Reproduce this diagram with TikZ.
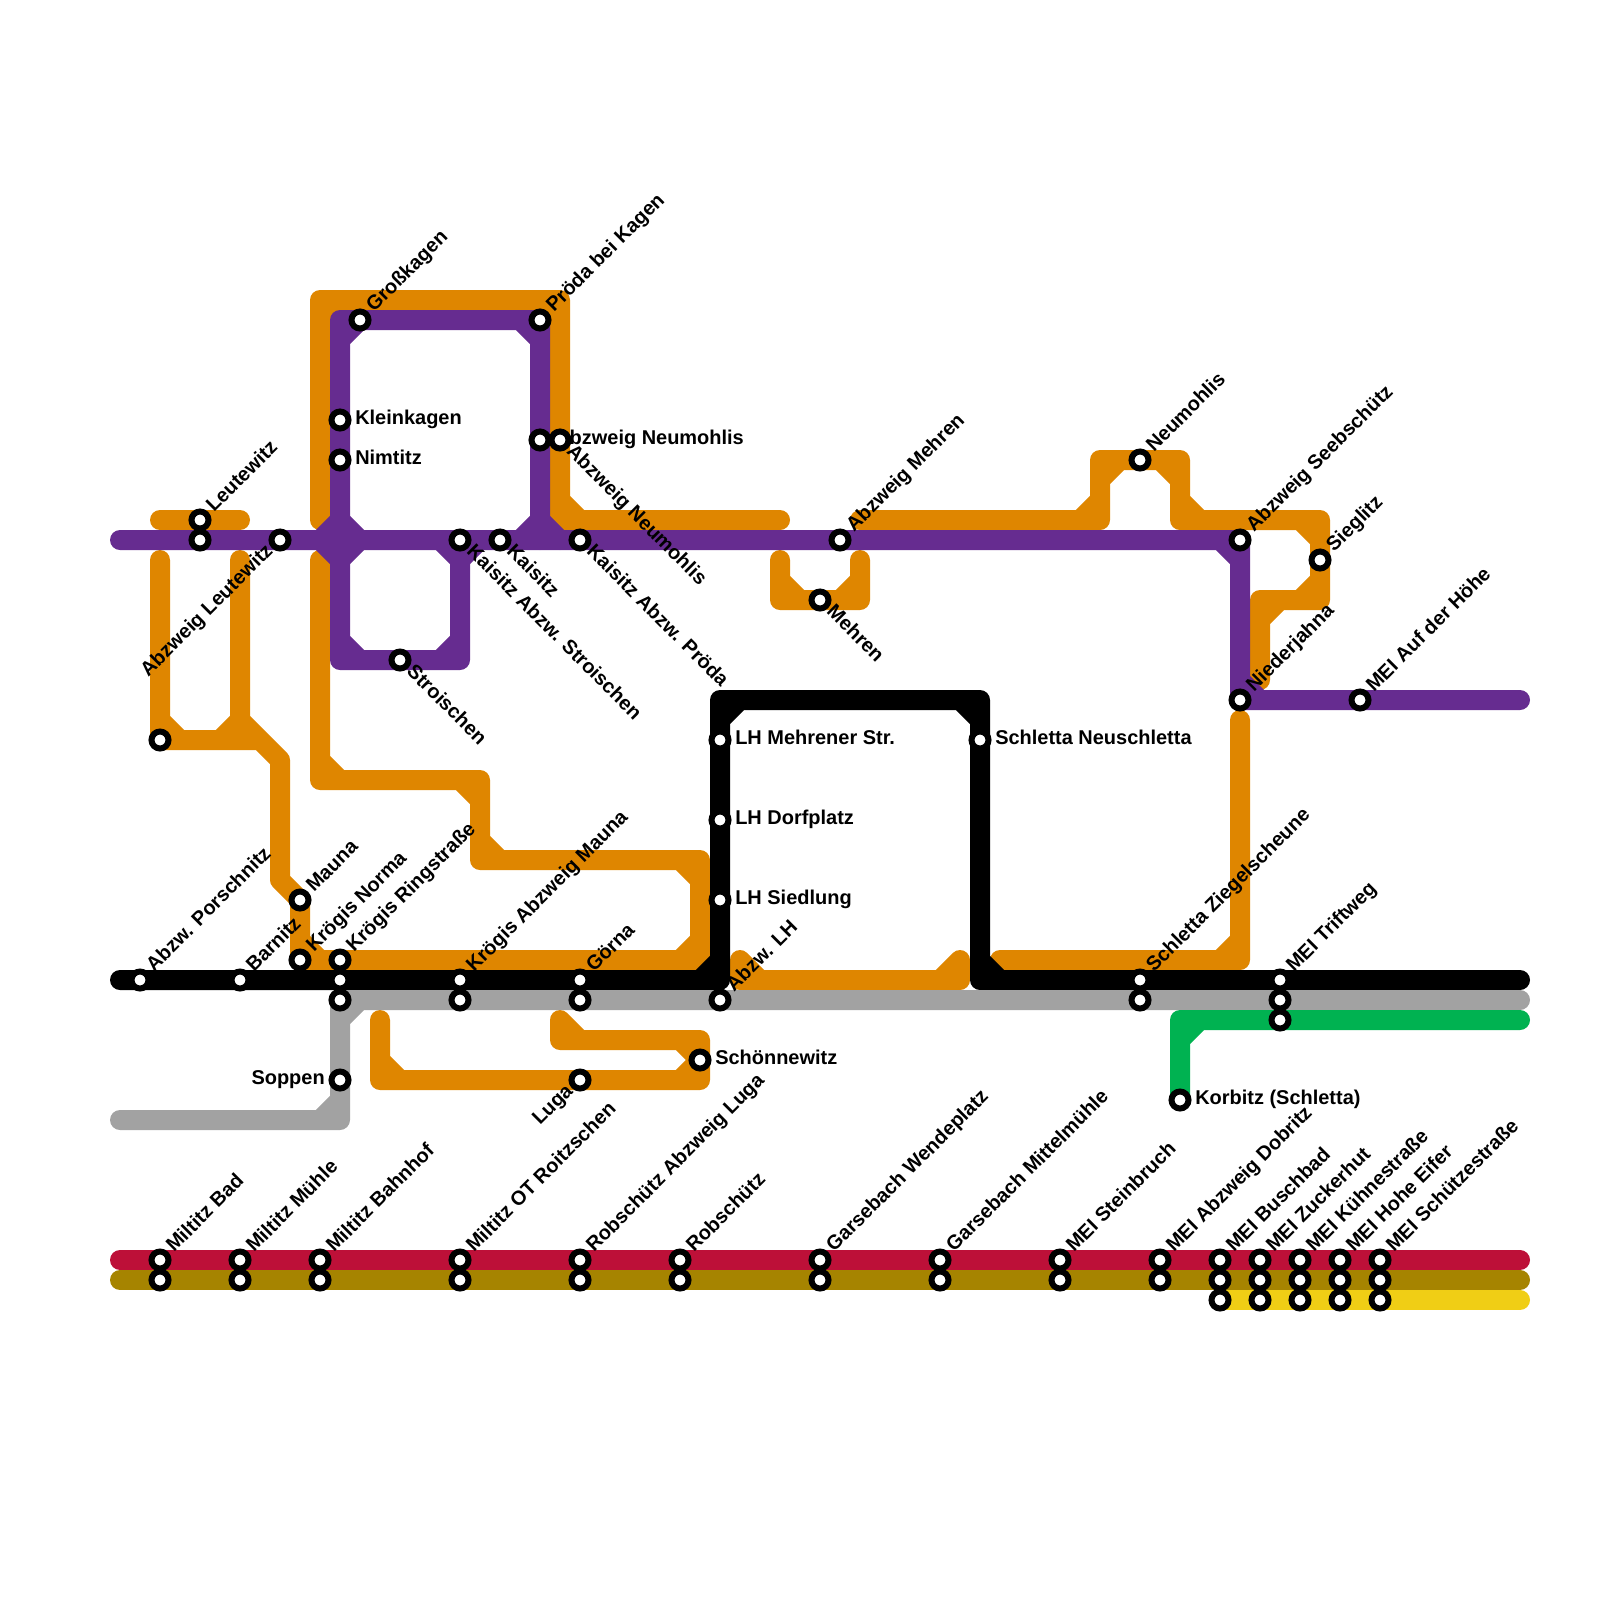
\documentclass[tikz,border=0pt]{standalone}
\usepackage{fontspec}
\setmainfont{Liberation Sans}
\usetikzlibrary{backgrounds}
\definecolor{lineorange}{HTML}{DF8600}\definecolor{linepurple}{HTML}{662C90}
\definecolor{linegray}{HTML}{A2A2A2}\definecolor{linegreen}{HTML}{00B251}
\definecolor{linered}{HTML}{BD1038}\definecolor{lineolive}{HTML}{A68400}
\definecolor{lineyellow}{HTML}{F0CE15}
\begin{document}
\begin{tikzpicture}[x=.5cm,y=-.5cm,stn/.style={circle, draw=black, fill=white, line width=.15cm,
     minimum size=.425cm, inner sep=0pt, outer sep=0pt},
     lab/.style={inner sep=0pt, font=\fontsize{14.2}{17}\selectfont\bfseries, text=black},
     labe/.style={lab, anchor=base west, xshift=.375cm, yshift=-.11cm},
     labw/.style={lab, anchor=base east, xshift=-.375cm, yshift=-.11cm},
     labne/.style={lab, xshift=.35cm, yshift=.175cm, rotate=45, anchor=base west},
     labse/.style={lab, xshift=.14cm, yshift=-.315cm, rotate=-45, anchor=base west},
     labsw/.style={lab, xshift=-.15cm, yshift=-.3cm, rotate=45, anchor=base east},
     route/.style={line width=.5cm, line cap=round, line join=round}]
     \useasboundingbox (0,0) rectangle (80,80);
     % free ends of the routes
     \coordinate (purpleW) at (6,27);\coordinate (purpleE) at (76,35);\coordinate (blackW) at (6,49);\coordinate (blackE) at (76,49);
     \coordinate (grayE) at (76,50);\coordinate (grayW) at (6,56);\coordinate (greenE) at (76,51);
     \coordinate (redW) at (6,63);\coordinate (redE) at (76,63);\coordinate (oliveW) at (6,64);\coordinate (oliveE) at (76,64);\coordinate (yellowE) at (76,65);
     \coordinate (leutW) at (8,26);\coordinate (leutE) at (12,26);\coordinate (porsW) at (8,28);\coordinate (porsE) at (16,28);\coordinate (branchN) at (12,28);
     \coordinate (kagenS) at (16,26);\coordinate (neumE) at (39,26);\coordinate (mehrW) at (39,28);\coordinate (mehrE) at (43,28);\coordinate (seebW) at (43,26);
     \coordinate (niedS) at (63,34);\coordinate (abzW) at (37,48);\coordinate (abzE) at (48,48);\coordinate (zieW) at (50,48);\coordinate (zieN) at (62,36);
     \coordinate (lugaW) at (19,51);\coordinate (lugaE) at (28,51);
     % stations with their labels
     \node (leutewitz) [stn] at (10,26) {};\node (leutewitzL) [labne] at (leutewitz) {Leutewitz};\node (leutewitzB) [stn] at (10,27) {};
     \node (abzLeut) [stn] at (14,27) {};\node (abzLeutL) [labsw] at (abzLeut) {Abzweig Leutewitz};\node (porsTurn) [stn] at (8,37) {};
     \node (grosskagen) [stn] at (18,16) {};\node (grosskagenL) [labne] at (grosskagen) {Großkagen};
     \node (proeda) [stn] at (27,16) {};\node (proedaL) [labne] at (proeda) {Pröda bei Kagen};
     \node (kleinkagen) [stn] at (17,21) {};\node (kleinkagenL) [labe] at (kleinkagen) {Kleinkagen};
     \node (nimtitz) [stn] at (17,23) {};\node (nimtitzL) [labe] at (nimtitz) {Nimtitz};
     \node (abzNeumA) [stn] at (27,22) {};\node (abzNeumAL) [labe] at (abzNeumA) {Abzweig Neumohlis};
     \node (abzNeumB) [stn] at (28,22) {};\node (abzNeumBL) [labse] at (abzNeumB) {Abzweig Neumohlis};
     \node (kaisStro) [stn] at (23,27) {};\node (kaisStroL) [labse] at (kaisStro) {Kaisitz Abzw. Stroischen};
     \node (kaisitz) [stn] at (25,27) {};\node (kaisitzL) [labse] at (kaisitz) {Kaisitz};
     \node (kaisProe) [stn] at (29,27) {};\node (kaisProeL) [labse] at (kaisProe) {Kaisitz Abzw. Pröda};
     \node (stroischen) [stn] at (20,33) {};\node (stroischenL) [labse] at (stroischen) {Stroischen};
     \node (abzMehren) [stn] at (42,27) {};\node (abzMehrenL) [labne] at (abzMehren) {Abzweig Mehren};
     \node (mehren) [stn] at (41,30) {};\node (mehrenL) [labse] at (mehren) {Mehren};
     \node (neumohlis) [stn] at (57,23) {};\node (neumohlisL) [labne] at (neumohlis) {Neumohlis};
     \node (abzSeeb) [stn] at (62,27) {};\node (abzSeebL) [labne] at (abzSeeb) {Abzweig Seebschütz};
     \node (sieglitz) [stn] at (66,28) {};\node (sieglitzL) [labne] at (sieglitz) {Sieglitz};
     \node (niederjahna) [stn] at (62,35) {};\node (niederjahnaL) [labne] at (niederjahna) {Niederjahna};
     \node (aufHoehe) [stn] at (68,35) {};\node (aufHoeheL) [labne] at (aufHoehe) {MEI Auf der Höhe};
     \node (lhMehren) [stn] at (36,37) {};\node (lhMehrenL) [labe] at (lhMehren) {LH Mehrener Str.};
     \node (lhDorf) [stn] at (36,41) {};\node (lhDorfL) [labe] at (lhDorf) {LH Dorfplatz};
     \node (lhSied) [stn] at (36,45) {};\node (lhSiedL) [labe] at (lhSied) {LH Siedlung};
     \node (neuschletta) [stn] at (49,37) {};\node (neuschlettaL) [labe] at (neuschletta) {Schletta Neuschletta};
     \node (mauna) [stn] at (15,45) {};\node (maunaL) [labne] at (mauna) {Mauna};
     \node (porschnitz) [stn] at (7,49) {};\node (porschnitzL) [labne] at (porschnitz) {Abzw. Porschnitz};
     \node (barnitz) [stn] at (12,49) {};\node (barnitzL) [labne] at (barnitz) {Barnitz};
     \node (norma) [stn] at (15,48) {};\node (normaL) [labne] at (norma) {Krögis Norma};
     \node (ring) [stn] at (17,48) {};\node (ringL) [labne] at (ring) {Krögis Ringstraße};\node (ringB) [stn] at (17,49) {};\node (ringC) [stn] at (17,50) {};
     \node (kroegMauna) [stn] at (23,49) {};\node (kroegMaunaL) [labne] at (kroegMauna) {Krögis Abzweig Mauna};\node (kroegMaunaB) [stn] at (23,50) {};
     \node (goerna) [stn] at (29,49) {};\node (goernaL) [labne] at (goerna) {Görna};\node (goernaB) [stn] at (29,50) {};
     \node (abzLH) [stn] at (36,50) {};\node (abzLHL) [labne] at (abzLH) {Abzw. LH};
     \node (ziegel) [stn] at (57,49) {};\node (ziegelL) [labne] at (ziegel) {Schletta Ziegelscheune};\node (ziegelB) [stn] at (57,50) {};
     \node (triftweg) [stn] at (64,49) {};\node (triftwegL) [labne] at (triftweg) {MEI Triftweg};\node (triftwegB) [stn] at (64,50) {};\node (triftwegC) [stn] at (64,51) {};
     \node (schoenne) [stn] at (35,53) {};\node (schoenneL) [labe] at (schoenne) {Schönnewitz};
     \node (soppen) [stn] at (17,54) {};\node (soppenL) [labw] at (soppen) {Soppen};
     \node (luga) [stn] at (29,54) {};\node (lugaL) [labsw] at (luga) {Luga};
     \node (korbitz) [stn] at (59,55) {};\node (korbitzL) [labe] at (korbitz) {Korbitz (Schletta)};
     \node (mBad) [stn] at (8,63) {};\node (mBadL) [labne] at (mBad) {Miltitz Bad};\node (mBadB) [stn] at (8,64) {};
     \node (mMuehle) [stn] at (12,63) {};\node (mMuehleL) [labne] at (mMuehle) {Miltitz Mühle};\node (mMuehleB) [stn] at (12,64) {};
     \node (mBahnhof) [stn] at (16,63) {};\node (mBahnhofL) [labne] at (mBahnhof) {Miltitz Bahnhof};\node (mBahnhofB) [stn] at (16,64) {};
     \node (mRoitz) [stn] at (23,63) {};\node (mRoitzL) [labne] at (mRoitz) {Miltitz OT Roitzschen};\node (mRoitzB) [stn] at (23,64) {};
     \node (rLuga) [stn] at (29,63) {};\node (rLugaL) [labne] at (rLuga) {Robschütz Abzweig Luga};\node (rLugaB) [stn] at (29,64) {};
     \node (robsch) [stn] at (34,63) {};\node (robschL) [labne] at (robsch) {Robschütz};\node (robschB) [stn] at (34,64) {};
     \node (gWende) [stn] at (41,63) {};\node (gWendeL) [labne] at (gWende) {Garsebach Wendeplatz};\node (gWendeB) [stn] at (41,64) {};
     \node (gMittel) [stn] at (47,63) {};\node (gMittelL) [labne] at (gMittel) {Garsebach Mittelmühle};\node (gMittelB) [stn] at (47,64) {};
     \node (mStein) [stn] at (53,63) {};\node (mSteinL) [labne] at (mStein) {MEI Steinbruch};\node (mSteinB) [stn] at (53,64) {};
     \node (mDobritz) [stn] at (58,63) {};\node (mDobritzL) [labne] at (mDobritz) {MEI Abzweig Dobritz};\node (mDobritzB) [stn] at (58,64) {};
     \node (mBusch) [stn] at (61,63) {};\node (mBuschL) [labne] at (mBusch) {MEI Buschbad};\node (mBuschB) [stn] at (61,64) {};\node (mBuschC) [stn] at (61,65) {};
     \node (mZucker) [stn] at (63,63) {};\node (mZuckerL) [labne] at (mZucker) {MEI Zuckerhut};\node (mZuckerB) [stn] at (63,64) {};\node (mZuckerC) [stn] at (63,65) {};
     \node (mKuehne) [stn] at (65,63) {};\node (mKuehneL) [labne] at (mKuehne) {MEI Kühnestraße};\node (mKuehneB) [stn] at (65,64) {};\node (mKuehneC) [stn] at (65,65) {};
     \node (mEifer) [stn] at (67,63) {};\node (mEiferL) [labne] at (mEifer) {MEI Hohe Eifer};\node (mEiferB) [stn] at (67,64) {};\node (mEiferC) [stn] at (67,65) {};
     \node (mSchuetz) [stn] at (69,63) {};\node (mSchuetzL) [labne] at (mSchuetz) {MEI Schützestraße};\node (mSchuetzB) [stn] at (69,64) {};\node (mSchuetzC) [stn] at (69,65) {};
     % routes, each corner has its short diagonal
     \begin{scope}[on background layer]
     \draw [route, lineorange] (leutW) -- (leutE);
     \draw [route, lineorange] (porsW) -- (8,37) -- (13,37) -- (14,38) -- (14,44) -- (15,45) -- (norma.center) -- (35,48) -- (35,43) -- (24,43) -- (24,39) -- (16,39) -- (porsE)
       (branchN) -- (12,36) -- (13,37) (8,36) -- (9,37) (11,37) -- (12,36) (15,47) -- (16,48) (34,43) -- (35,44) (35,47) -- (34,48)
       (23,39) -- (24,40) (24,42) -- (25,43) (16,38) -- (17,39);
     \draw [route, lineorange] (kagenS) -- (16,15) -- (28,15) -- (28,26) -- (neumE) (16,16) -- (17,15) (27,15) -- (28,16) (28,25) -- (29,26);
     \draw [route, lineorange] (mehrW) -- (39,30) -- (43,30) -- (mehrE) (39,29) -- (40,30) (42,30) -- (43,29);
     \draw [route, lineorange] (seebW) -- (55,26) -- (55,23) -- (59,23) -- (59,26) -- (66,26) -- (66,30) -- (63,30) -- (niedS)
       (54,26) -- (55,25) (55,24) -- (56,23) (58,23) -- (59,24) (59,25) -- (60,26) (65,26) -- (66,27) (66,29) -- (65,30) (64,30) -- (63,31);
     \draw [route, lineorange] (abzW) -- (37,49) -- (48,49) -- (abzE) (abzW) -- (38,49) (47,49) -- (abzE);
     \draw [route, lineorange] (zieW) -- (62,48) -- (zieN) (61,48) -- (62,47);
     \draw [route, lineorange] (lugaW) -- (19,54) -- (35,54) -- (35,52) -- (28,52) -- (lugaE) (19,53) -- (20,54) (lugaE) -- (29,52) (34,52) -- (schoenne.center) -- (34,54);
     \draw [route, linepurple] (purpleW) -- (abzSeeb.center) -- (niederjahna.center) -- (purpleE) (61,27) -- (62,28) (62,34) -- (63,35);
     \draw [route, linepurple] (17,27) -- (17,16) -- (27,16) -- (27,27) (17,17) -- (18,16) (26,16) -- (27,17);
     \draw [route, linepurple] (17,27) -- (17,33) -- (23,33) -- (kaisStro.center) (17,32) -- (18,33) (22,33) -- (23,32);
     \draw [route, linepurple] (16,27) -- (17,26) -- (18,27) -- (17,28) -- (16,27) (26,27) -- (27,26) -- (28,27) (22,27) -- (23,28) -- (24,27);
     \draw [route, black] (blackW) -- (36,49) -- (36,35) -- (49,35) -- (49,49) -- (blackE) (35,49) -- (36,48) (36,36) -- (37,35) (48,35) -- (49,36) (49,48) -- (50,49);
     \draw [route, linegray] (grayE) -- (17,50) -- (17,56) -- (grayW) (17,51) -- (18,50) (16,56) -- (17,55);
     \draw [route, linegreen] (greenE) -- (59,51) -- (korbitz.center) (59,52) -- (60,51);
     \draw [route, linered] (redW) -- (redE);
     \draw [route, lineolive] (oliveW) -- (oliveE);
     \draw [route, lineyellow] (mBuschC.center) -- (yellowE);
     \end{scope}
\end{tikzpicture}
\end{document}
